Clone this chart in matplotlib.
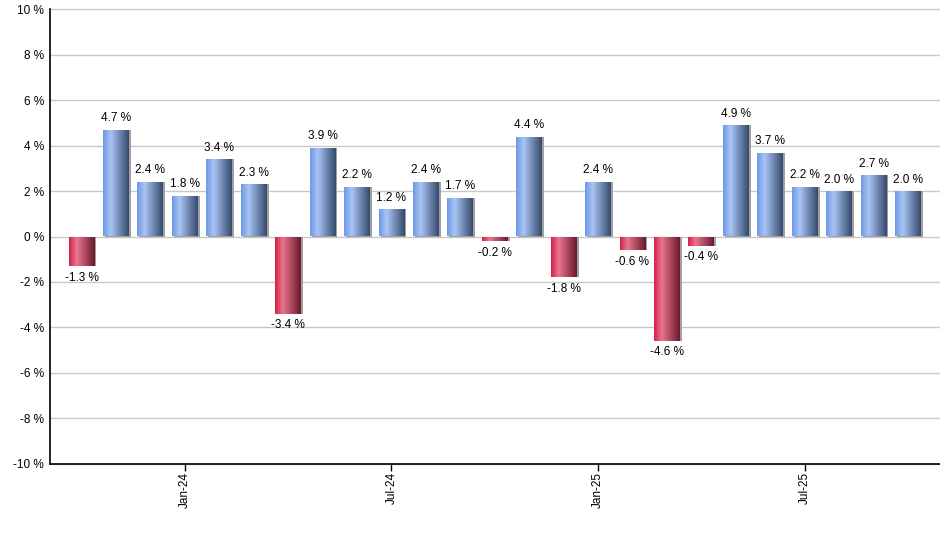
import numpy as np
import matplotlib.pyplot as plt
from matplotlib.colors import LinearSegmentedColormap
from matplotlib.ticker import FuncFormatter
import matplotlib.transforms as mtransforms

plt.rcParams['font.family'] = ['Liberation Sans', 'DejaVu Sans']

months = ['Oct-23', 'Nov-23', 'Dec-23', 'Jan-24', 'Feb-24', 'Mar-24', 'Apr-24',
          'May-24', 'Jun-24', 'Jul-24', 'Aug-24', 'Sep-24', 'Oct-24', 'Nov-24',
          'Dec-24', 'Jan-25', 'Feb-25', 'Mar-25', 'Apr-25', 'May-25', 'Jun-25',
          'Jul-25', 'Aug-25', 'Sep-25', 'Oct-25']
returns = [-1.3, 4.7, 2.4, 1.8, 3.4, 2.3, -3.4, 3.9, 2.2, 1.2, 2.4, 1.7, -0.2,
           4.4, -1.8, 2.4, -0.6, -4.6, -0.4, 4.9, 3.7, 2.2, 2.0, 2.7, 2.0]
tick_labels = ['Jan-24', 'Jul-24', 'Jan-25', 'Jul-25']

blue_cmap = LinearSegmentedColormap.from_list(
    'blue', [(0, '#6c98e6'), (0.3, '#a9c5f5'), (1.0, '#34496c')])
red_cmap = LinearSegmentedColormap.from_list(
    'red', [(0, '#d61e48'), (0.3, '#e8768f'), (1.0, '#6a182c')])

fig = plt.figure(figsize=(9.4, 5.5), dpi=100)
ax = fig.add_axes([49.5 / 940, 1 - 463.5 / 550, 1 - 49.5 / 940, 454 / 550])

x = np.arange(len(months))
width = 0.75

# shadow behind bars
shadow = mtransforms.offset_copy(ax.transData, fig=fig, x=2, y=0, units='dots')
ax.bar(x, returns, width=width, color='#a0a0a0', transform=shadow, zorder=2)

bars = ax.bar(x, returns, width=width, color='none', zorder=3)
grad = np.linspace(0, 1, 256).reshape(1, -1)
for b, v in zip(bars, returns):
    x0, y0 = b.get_x(), b.get_y()
    w, h = b.get_width(), b.get_height()
    cmap = blue_cmap if v >= 0 else red_cmap
    im = ax.imshow(grad, cmap=cmap, aspect='auto', zorder=3,
                   extent=[x0, x0 + w, y0, y0 + h], interpolation='bilinear')
    im.set_clip_path(b)

for xi, v in zip(x, returns):
    if v >= 0:
        ax.annotate(f'{v:.1f} %', (xi, v), xytext=(0, 4), textcoords='offset points',
                    ha='center', va='bottom', fontsize=8.5, color='black')
    else:
        ax.annotate(f'{v:.1f} %', (xi, v), xytext=(0, -4), textcoords='offset points',
                    ha='center', va='top', fontsize=8.5, color='black')

ax.set_xlim(-0.93, 24.93)
ax.set_ylim(-10, 10)
ax.set_yticks(np.arange(-10, 11, 2))
ax.yaxis.set_major_formatter(FuncFormatter(lambda v, p: f'{v:.0f} %'))
ax.tick_params(axis='y', length=0, labelsize=8.5, pad=4)

ax.set_xticks([months.index(t) for t in tick_labels])
ax.set_xticklabels(tick_labels, rotation=90, fontsize=8.5)
ax.tick_params(axis='x', length=5, width=1, color='black', pad=1)

ax.grid(axis='y', color='#c8c8c8', linewidth=1)
for gl in ax.yaxis.get_gridlines():
    gl.set_clip_on(False)
ax.set_axisbelow(True)
for s in ['top', 'right']:
    ax.spines[s].set_visible(False)
ax.spines['left'].set_linewidth(1.2)
ax.spines['bottom'].set_linewidth(1.2)

fig.savefig('out.png', dpi=100)
